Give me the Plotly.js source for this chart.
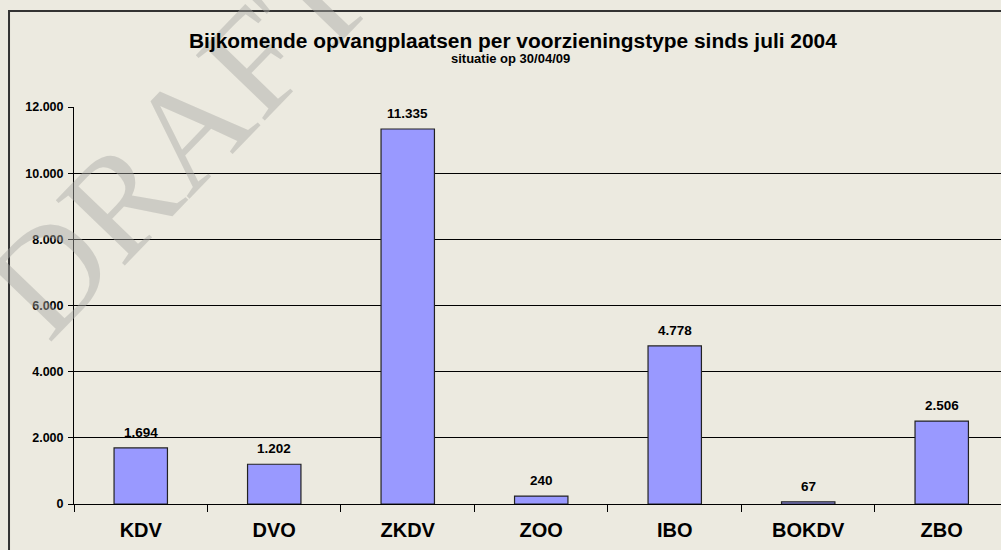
<!DOCTYPE html>
<html>
<head>
<meta charset="utf-8">
<script src="https://cdn.plot.ly/plotly-3.0.1.min.js"></script>
<style>html,body{margin:0;padding:0;background:#ECEAE0;}#chart{width:1001px;height:550px;}</style>
</head>
<body>
<div id="chart"></div>
<script>
const categories = ["KDV", "DVO", "ZKDV", "ZOO", "IBO", "BOKDV", "ZBO"];
const values = [1694, 1202, 11335, 240, 4778, 67, 2506];
const valueLabels = ["1.694", "1.202", "11.335", "240", "4.778", "67", "2.506"];
const yTicks = [0, 2000, 4000, 6000, 8000, 10000, 12000];
const yTickLabels = ["0", "2.000", "4.000", "6.000", "8.000", "10.000", "12.000"];
const titleText = "Bijkomende opvangplaatsen per voorzieningstype sinds juli 2004";
const subtitleText = "situatie op 30/04/09";
const watermarkText = "DRAFT";

const FONT = "Liberation Sans, Arial, sans-serif";

const trace = {
  type: "bar",
  x: categories,
  y: values,
  width: 0.4,
  marker: {color: "#9999FF", line: {color: "#222222", width: 1.2}},
  hoverinfo: "none"
};

const labelAnnotations = categories.map((c, i) => ({
  x: c, y: values[i], xref: "x", yref: "y",
  text: valueLabels[i], showarrow: false,
  xanchor: "center", yanchor: "bottom", yshift: 6,
  font: {family: FONT, size: 13.5, color: "#000", weight: "bold"}
}));

const layout = {
  width: 1001,
  height: 550,
  paper_bgcolor: "#ECEAE0",
  plot_bgcolor: "#ECEAE0",
  margin: {l: 74, r: 0, t: 107, b: 46},
  showlegend: false,
  font: {family: FONT, color: "#000"},
  xaxis: {
    range: [-0.5, 6.444],
    showgrid: false,
    showline: true,
    linecolor: "#000",
    linewidth: 1,
    ticks: "outside",
    tickson: "boundaries",
    ticklen: 7,
    tickcolor: "#000",
    tickfont: {size: 20, weight: "bold", family: FONT},
    ticklabelstandoff: 8,
    fixedrange: true
  },
  yaxis: {
    range: [0, 12000],
    tickvals: yTicks,
    ticktext: yTickLabels,
    showgrid: true,
    gridcolor: "#000",
    gridwidth: 1,
    showline: true,
    linecolor: "#000",
    linewidth: 1,
    ticks: "outside",
    ticklen: 5,
    tickcolor: "#000",
    tickfont: {size: 12.5, weight: "bold", family: FONT},
    ticklabelstandoff: 2,
    zeroline: false,
    fixedrange: true
  },
  annotations: [
    {text: watermarkText, xref: "paper", yref: "paper",
     x: (178 - 74) / 927, y: (504 - 140) / 397,
     xanchor: "center", yanchor: "middle",
     showarrow: false, textangle: -46,
     font: {family: "Liberation Serif, DejaVu Serif, serif", size: 145, color: "rgba(168,168,163,0.45)"}},
    {text: "<b>" + titleText + "</b>", xref: "paper", yref: "paper",
     x: (513 - 74) / 927, y: (504 - 41) / 397,
     xanchor: "center", yanchor: "middle", showarrow: false,
     font: {size: 20.9, family: FONT, color: "#000"}},
    {text: "<b>" + subtitleText + "</b>", xref: "paper", yref: "paper",
     x: (510 - 74) / 927, y: (504 - 59) / 397,
     xanchor: "center", yanchor: "middle", showarrow: false,
     font: {size: 13, family: FONT, color: "#000"}}
  ].concat(labelAnnotations),
  shapes: [
    {type: "rect", xref: "paper", yref: "paper", x0: -0.0701, x1: 1.02, y0: -0.13, y1: 1.2418,
     line: {color: "#333", width: 2}, fillcolor: "rgba(0,0,0,0)", layer: "below"}
  ]
};

Plotly.newPlot("chart", [trace], layout, {displayModeBar: false, staticPlot: true});
</script>
</body>
</html>
